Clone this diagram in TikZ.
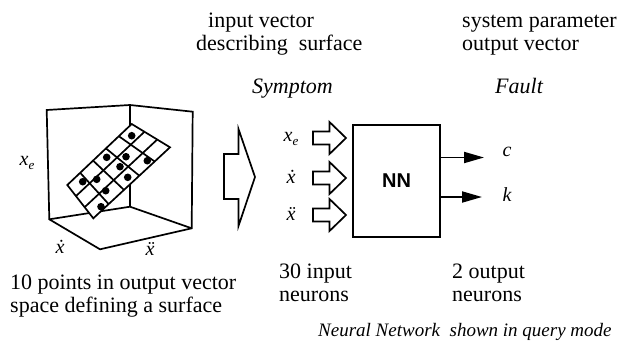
\documentclass[tikz,border=0pt]{standalone}
\usepackage{fontspec}
\setmainfont{Liberation Serif}
\newfontfamily\nnfont{Liberation Sans}
\usetikzlibrary{calc,arrows.meta}
\begin{document}
\begin{tikzpicture}[x=1pt,y=-1pt,line join=miter,
  edge/.style={line width=1.7pt},
  txt/.style={font=\fontsize{22}{22.5}\selectfont,align=left,inner sep=0pt,anchor=base west},
  itx/.style={font=\fontsize{22}{22.5}\selectfont\itshape,inner sep=0pt,anchor=base west},
  varlbl/.style={font=\fontsize{20}{20}\selectfont\itshape,inner sep=0pt},
  hollow/.style={draw,line width=1.7pt,fill=white},
  dot/.style={fill=black},
  outarrow/.style={line width=1.9pt,-{Triangle[length=20pt,width=11pt]}}]
\useasboundingbox (0,0) rectangle (623,354);
% cube
\coordinate (c1) at (46.7,110);
\coordinate (c2) at (130,105);
\coordinate (c3) at (192.7,111.7);
\coordinate (c4) at (49.3,219.3);
\coordinate (c5) at (130,206.7);
\coordinate (c6) at (191.7,228.3);
\coordinate (c7) at (100,249.3);
\draw[edge] (c4)--(c1)--(c2)--(c3)--(c6)--(c7)--cycle;
\draw[edge] (c2)--(c5) (c4)--(c5)--(c6);
% grid surface
\coordinate (T) at (131.7,124);
\coordinate (R) at (170,147.3);
\coordinate (B) at (93.3,218.3);
\coordinate (L) at (67.3,185);
\filldraw[edge,fill=white] (T)--(R)--(B)--(L)--cycle;
\foreach \u in {0.3333,0.6667}
  \draw[edge] ($(T)!\u!(R)$) -- ($(L)!\u!(B)$);
\foreach \v in {0.2,0.4,0.6,0.8}
  \draw[edge] ($(T)!\v!(L)$) -- ($(R)!\v!(B)$);
\foreach \p in {(131.7,135.7),(106.7,157.3),(126,156.7),(147.3,160.7),(120,166.7),
               (82.7,181.7),(96.7,179.3),(127.7,177.3),(105.7,190.7),(101,206.7)}
  \fill[dot] \p circle (3.8);
\node[varlbl] (lxe) at (27,163) {x\raisebox{-0.35ex}{\fontsize{13}{13}\selectfont e}};
\node[varlbl] (lxd) at (60,247) {\.x};
\node[varlbl] (lxdd) at (150,249) {\"x};
% big hollow arrow
\draw[hollow] (224,154)--(238.5,154)--(238.5,129)--(255,177)--(238.5,226)--(238.5,199)--(224,199)--cycle;
% small input arrows
\foreach \y in {138,178,215}
  \draw[hollow] (313,\y-6.5)--(329.5,\y-6.5)--(329.5,\y-16)--(346,\y)--(329.5,\y+16)--(329.5,\y+6.5)--(313,\y+6.5)--cycle;
\node[varlbl] (ixe) at (291,139) {x\raisebox{-0.35ex}{\fontsize{13}{13}\selectfont e}};
\node[varlbl] (ixd) at (291,177) {\.x};
\node[varlbl] (ixdd) at (291,214) {\"x};
% NN box
\node[draw,line width=1.7pt,minimum width=87pt,minimum height=112pt,inner sep=0pt,
      font=\nnfont\bfseries\fontsize{20}{20}\selectfont] (nn) at (396.5,181) {NN};
\coordinate (cend) at (484,157.5);
\coordinate (kend) at (482,197);
\draw[outarrow] (nn.east |- cend) -- (cend);
\draw[outarrow] (nn.east |- kend) -- (kend);
\node[varlbl] (lc) at (507,152) {c};
\node[varlbl] (lk) at (507,195) {k};
% texts (base = baseline of the last line)
\node[txt] (t1) at (196,50) {\hspace*{12pt}input vector\\describing\ \ surface};
\node[txt] (t2) at (462,50) {system parameter\\output vector};
\node[itx] (sym) at (252,93) {Symptom};
\node[itx] (flt) at (495,93) {Fault};
\node[txt] (t3) at (10,312) {10 points in output vector\\space defining a surface};
\node[txt] (t4) at (279,301) {30 input\\neurons};
\node[txt] (t5) at (452,301) {2 output\\neurons};
\node[itx,font=\fontsize{19}{19}\selectfont\itshape] (t6) at (318,336) {Neural Network\ \ shown in query mode};
\end{tikzpicture}
\end{document}
